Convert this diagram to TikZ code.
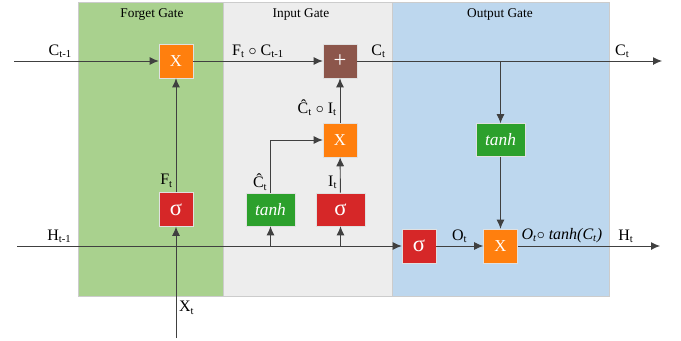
\documentclass[tikz,border=0pt]{standalone}
\usepackage{fontspec}
\setmainfont{Liberation Serif}
\usetikzlibrary{arrows.meta,positioning}
\definecolor{fgpanel}{HTML}{A9D18E}
\definecolor{inpanel}{HTML}{EDEDED}
\definecolor{outpanel}{HTML}{BDD7EE}
\definecolor{mulcol}{HTML}{FF7F0E}
\definecolor{sigcol}{HTML}{D62728}
\definecolor{tanhcol}{HTML}{2CA02C}
\definecolor{addcol}{HTML}{8C564B}
\newcommand{\sub}[1]{\textsubscript{#1}}
\tikzset{panel/.style={draw=black!20,line width=0.6pt},
  title/.style={font=\fontsize{10}{12}\selectfont},
  cell/.style={draw=black!12,line width=0.4pt,inner sep=0pt,text=white,
    minimum width=25.5pt,minimum height=25.5pt,font=\fontsize{12.5}{14}\selectfont},
  mul/.style={cell,fill=mulcol},
  sig/.style={cell,fill=sigcol,font=\fontsize{17}{18}\selectfont},
  addb/.style={cell,fill=addcol,font=\fontsize{17}{18}\selectfont},
  tnh/.style={cell,fill=tanhcol,minimum width=36.75pt,minimum height=24.75pt,
    font=\fontsize{13}{15}\selectfont\itshape},
  flow/.style={-{Latex[length=6.75pt,width=6pt]},draw=black!75,line width=0.7pt},
  lab/.style={font=\fontsize{12}{14}\selectfont,inner sep=2pt}}

\begin{document}
\begin{tikzpicture}[x=0.75pt,y=-0.75pt]
\useasboundingbox (0,0) rectangle (681,340);
% gate panels
\draw[panel,fill=fgpanel] (78,2) rectangle (223,296);
\draw[panel,fill=inpanel] (223,2) rectangle (392,296);
\draw[panel,fill=outpanel] (392,2) rectangle (609,296);
\node[title] (tforget) at (152,15) {Forget Gate};
\node[title] (tinput) at (301,15) {Input Gate};
\node[title] (toutput) at (500,15) {Output Gate};
% line ends
\coordinate (cin) at (14,61);
\coordinate (cout) at (662,61);
\coordinate (hin) at (17,246);
\coordinate (hout) at (660,246);
\coordinate (xin) at (176,338);
% cells
\node[mul] (fx) at (176,61) {X};
\node[sig] (fsig) at (176,209.5) {σ};
\node[tnh] (itanh) at (270.5,209.5) {tanh};
\node[sig,minimum width=36.75pt,minimum height=24.75pt] (isig) at (340.5,209.5) {σ};
\node[mul] (ix) at (340,140) {X};
\node[addb] (add) at (340,61) {+};
\node[tnh] (otanh) at (500.5,140) {tanh};
\node[sig] (osig) at (419,246) {σ};
\node[mul] (ox) at (500.5,246) {X};
% cell state
\draw[flow] (cin) -- node[lab,above,pos=0.32] {C\sub{t-1}} (fx);
\draw[flow] (fx) -- node[lab,above] {F\sub{t} $\circ$ C\sub{t-1}} (add);
\draw[flow] (add) -- node[lab,above,pos=0.07] {C\sub{t}} node[lab,above,pos=0.87] {C\sub{t}} (cout);
\draw[flow] (otanh |- add) -- (otanh);
% hidden state and input
\draw[flow] (hin) -- node[lab,above,pos=0.11] {H\sub{t-1}} (osig);
\draw[flow] (xin) -- node[lab,right,pos=0.27] {X\sub{t}} (fsig);
\draw[flow] (fsig) -- node[lab,left,pos=0.1] {F\sub{t}} (fx);
\draw[flow] (itanh |- hin) -- (itanh);
\draw[flow] (isig |- hin) -- (isig);
\draw[flow] (itanh) |- node[lab,left,pos=0.1] {\^{C}\sub{t}} (ix);
\draw[flow] (isig) -- node[lab,left,pos=0.3] {I\sub{t}} (ix);
\draw[flow] (ix) -- node[lab,left,pos=0.34] {\^{C}\sub{t} $\circ$ I\sub{t}} (add);
% output
\draw[flow] (osig) -- node[lab,above] {O\sub{t}} (ox);
\draw[flow] (otanh) -- (ox);
\draw[flow] (ox) -- node[lab,above,pos=0.31] {\textit{O\sub{t}$\circ$ tanh(C\sub{t})}} node[lab,above,pos=0.76] {H\sub{t}} (hout);
\end{tikzpicture}
\end{document}
